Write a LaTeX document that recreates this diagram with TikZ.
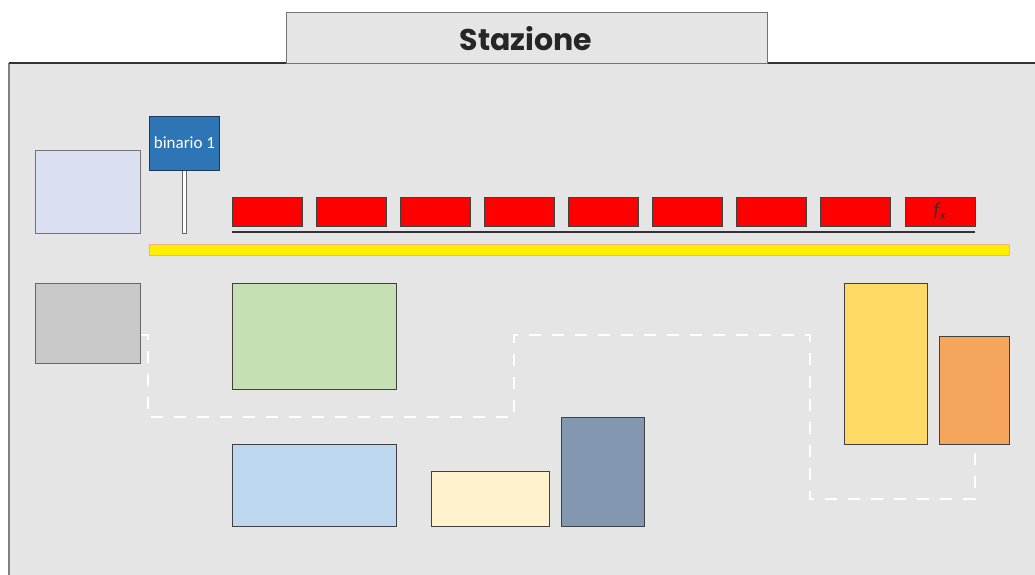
\documentclass[tikz,border=0pt]{standalone}
\usepackage{fontspec}
\newfontfamily\titlefont{Poppins}
\newfontfamily\signfont{Carlito}
\begin{document}
\begin{tikzpicture}[x=1pt,y=-1pt,
  box/.style={draw=black!75,line width=1pt,rectangle,inner sep=0pt,anchor=north west},
  car/.style={box,fill=red,minimum width=70pt,minimum height=29pt},
  path/.style={draw=white,line width=2.8pt,dash pattern=on 12pt off 11pt}
]
\clip (0,0) rectangle (1035,575);
\useasboundingbox (0,0) rectangle (1035,575);
\fill[white] (0,0) rectangle (1035,575);
% main area
\fill[black!10] (9,63) rectangle (1040,580);
\draw[black!50,line width=1.6pt] (9,580) -- (9,63);
\draw[black!80,line width=1.4pt] (9,63) -- (1040,63);
% title
\node[box,draw=black!55,fill=black!10,minimum width=481pt,minimum height=51pt] (title) at (286,12) {};
\node[font=\titlefont\bfseries\fontsize{30}{32}\selectfont,text=black!85] (titletext) at (526,39) {Stazione};
% left boxes
\node[box,draw=black!55,fill={rgb,255:red,218;green,224;blue,242},minimum width=105pt,minimum height=83pt] (lav) at (35,150) {};
\node[box,draw=black!60,fill={rgb,255:red,200;green,200;blue,200},minimum width=105pt,minimum height=80pt] (gray) at (35,283) {};
% sign
\node[box,fill=white,draw=black!60,line width=0.8pt,minimum width=4pt,minimum height=63pt] (post) at (182,170) {};
\node[box,draw={rgb,255:red,31;green,56;blue,90},fill={rgb,255:red,46;green,117;blue,182},minimum width=70pt,minimum height=54pt] (sign) at (149,116) {};
\node[font=\signfont\fontsize{17}{19}\selectfont,text=white] (signtext) at ([yshift=1pt]sign.center) {binario 1};
% cars
\foreach \i in {0,...,7}{
  \node[car] (car\i) at (232+84*\i,197) {};
}
\node[car] (car8) at (905,197) {};
\node[text=black!80,font=\signfont\itshape\fontsize{20}{22}\selectfont,inner sep=0pt] (fx) at ([xshift=-1pt,yshift=1pt]car8.center) {f\raisebox{-3.5pt}{\fontsize{13}{14}\selectfont x}};
% rail
\coordinate (railL) at (232,232);
\coordinate (railR) at (975,232);
\draw[black!80,line width=1.4pt] (railL) -- (railR);
% yellow platform
\node[box,draw={rgb,255:red,244;green,177;blue,131},fill={rgb,255:red,255;green,238;blue,0},minimum width=860pt,minimum height=11pt] (platform) at (149,244) {};
% other boxes
\node[box,fill={rgb,255:red,198;green,224;blue,180},minimum width=164pt,minimum height=106pt] (green) at (232,283) {};
\node[box,fill={rgb,255:red,189;green,215;blue,238},minimum width=164pt,minimum height=82pt] (lblue) at (232,444) {};
\node[box,fill={rgb,255:red,255;green,242;blue,204},minimum width=118pt,minimum height=55pt] (cream) at (431,471) {};
\node[box,fill={rgb,255:red,132;green,151;blue,176},minimum width=83pt,minimum height=109pt] (slate) at (561,417) {};
\node[box,fill={rgb,255:red,255;green,217;blue,102},minimum width=83pt,minimum height=161pt] (ygold) at (844,283) {};
\node[box,fill={rgb,255:red,246;green,165;blue,93},minimum width=70pt,minimum height=108pt] (orange) at (939,336) {};
% dashed path
\coordinate (p0) at (141,335);
\coordinate (p1) at (148,335);
\coordinate (p2) at (148,417);
\coordinate (p3) at (514,417);
\coordinate (p4) at (514,335);
\coordinate (p5) at (810,335);
\coordinate (p6) at (810,499);
\coordinate (p7) at (975,499);
\coordinate (p8) at (975,445);
\draw[path] (p0) -- (p1) -- (p2) -- (p3) -- (p4) -- (p5) -- (p6) -- (p7) -- (p8);
\end{tikzpicture}
\end{document}
